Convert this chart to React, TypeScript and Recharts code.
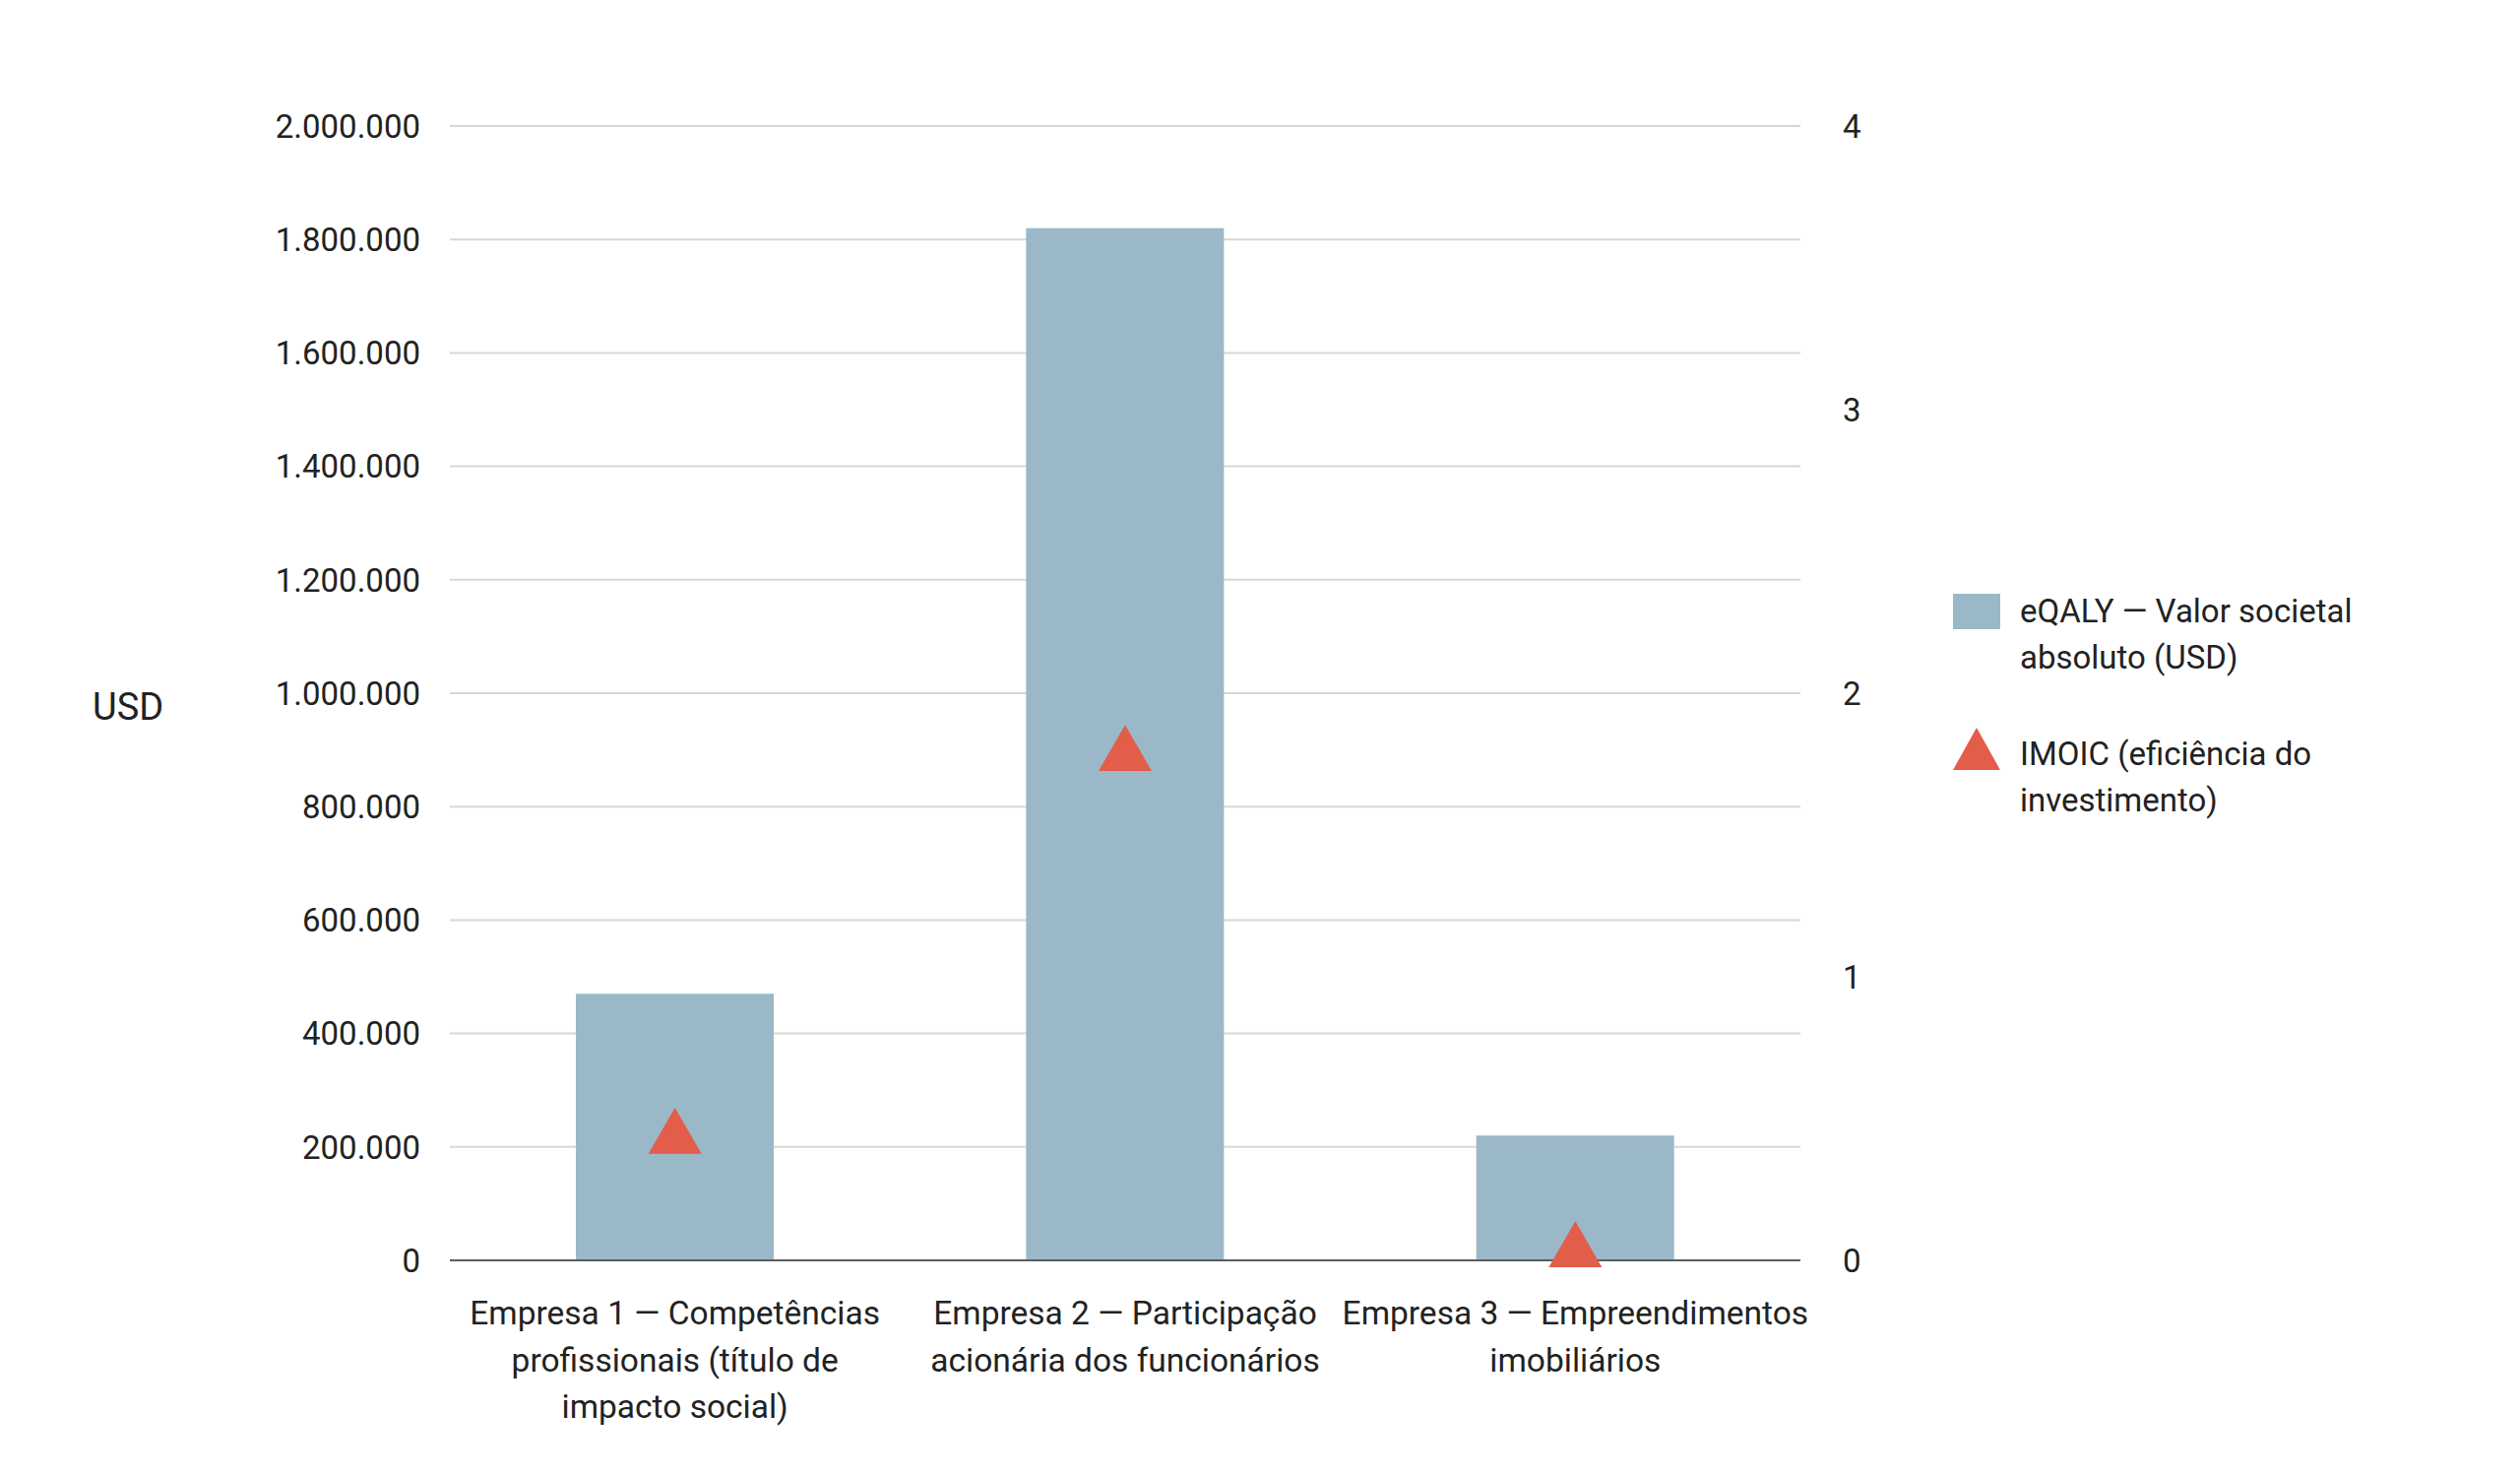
import React from "react";
import {
  Bar,
  CartesianGrid,
  ComposedChart,
  Legend,
  Scatter,
  XAxis,
  YAxis,
  ZAxis,
} from "recharts";

const categories = [
  "Empresa 1 — Competências profissionais (título de impacto social)",
  "Empresa 2 — Participação acionária dos funcionários",
  "Empresa 3 — Empreendimentos imobiliários",
];

// How each category label breaks in the reference.
const categoryLines = [
  ["Empresa 1 — Competências", "profissionais (título de", "impacto social)"],
  ["Empresa 2 — Participação", "acionária dos funcionários"],
  ["Empresa 3 — Empreendimentos", "imobiliários"],
];

const eqalyValues = [470000, 1820000, 220000];
const imoicValues = [0.43, 1.78, 0.03];

const usdTicks = [0, 200000, 400000, 600000, 800000, 1000000, 1200000, 1400000, 1600000, 1800000, 2000000];
const imoicTicks = [0, 1, 2, 3, 4];

const eqalyName = "eQALY — Valor societal absoluto (USD)";
const imoicName = "IMOIC (eficiência do investimento)";

const colors = {
  bar: "#9bb8c9",
  marker: "#e35d4b",
  grid: "#d9d7d0",
  axis: "#5b5c5e",
  text: "#222222",
};

const FONT = "Roboto, 'Noto Sans', sans-serif";

const rows = categories.map((name, i) => ({
  name,
  eqaly: eqalyValues[i],
  imoic: imoicValues[i],
}));

// Dotted thousands, pt-BR style: 1.800.000
const formatUsd = (v: number) => String(v).replace(/\B(?=(\d{3})+(?!\d))/g, ".");

function CategoryTick(props: { x?: number; y?: number; index?: number }) {
  const { x = 0, y = 0, index = 0 } = props;
  const lines = categoryLines[index] ?? [];
  return (
    <text x={x} y={y} textAnchor="middle" fill={colors.text} fontSize={33.5} fontFamily={FONT}>
      {lines.map((line, i) => (
        <tspan key={i} x={x} y={y + 65 + i * 47.5}>
          {line}
        </tspan>
      ))}
    </text>
  );
}

function LegendContent() {
  const item: React.CSSProperties = {
    display: "flex",
    alignItems: "flex-start",
    fontSize: 33,
    lineHeight: "47px",
    color: colors.text,
    fontFamily: FONT,
  };
  return (
    <div>
      <div style={item}>
        <svg width={48} height={36} style={{ marginTop: 6, flex: "none" }}>
          <rect width={48} height={36} fill={colors.bar} />
        </svg>
        <div style={{ marginLeft: 20, width: 400 }}>{eqalyName}</div>
      </div>
      <div style={{ ...item, marginTop: 51 }}>
        <svg width={48} height={43} style={{ marginTop: -3, flex: "none" }}>
          <polygon points="24,0 48,43 0,43" fill={colors.marker} />
        </svg>
        <div style={{ marginLeft: 20, width: 400 }}>{imoicName}</div>
      </div>
    </div>
  );
}

export default function App() {
  return (
    <div style={{ position: "absolute", left: 0, top: 0, fontFamily: FONT }}>
      <ComposedChart
        width={2560}
        height={1499}
        data={rows}
        margin={{ top: 128, right: 0, bottom: 0, left: 0 }}
      >
        <CartesianGrid yAxisId="left" vertical={false} stroke={colors.grid} strokeWidth={2} />
        <XAxis
          dataKey="name"
          height={219}
          tickLine={false}
          tickSize={0}
          tickMargin={0}
          axisLine={{ stroke: colors.axis, strokeWidth: 2 }}
          tick={<CategoryTick />}
          interval={0}
        />
        <YAxis
          yAxisId="left"
          width={457}
          domain={[0, 2000000]}
          ticks={usdTicks}
          tickFormatter={(v) => formatUsd(Number(v))}
          axisLine={false}
          tickLine={false}
          tickSize={0}
          tickMargin={30}
          tick={{ fill: colors.text, fontSize: 33, fontFamily: FONT }}
          label={{
            value: "USD",
            position: "insideLeft",
            offset: 94,
            dy: 14,
            fill: colors.text,
            fontSize: 38,
            fontFamily: FONT,
          }}
        />
        <YAxis
          yAxisId="right"
          orientation="right"
          width={155}
          domain={[0, 4]}
          ticks={imoicTicks}
          axisLine={false}
          tickLine={false}
          tickSize={0}
          tickMargin={43}
          tick={{ fill: colors.text, fontSize: 33, fontFamily: FONT }}
        />
        <ZAxis range={[1263, 1263]} />
        <Legend
          layout="vertical"
          align="right"
          verticalAlign="top"
          wrapperStyle={{ top: 597, right: 0, width: 576 }}
          content={<LegendContent />}
        />
        <Bar
          yAxisId="left"
          dataKey="eqaly"
          name={eqalyName}
          fill={colors.bar}
          barSize={201}
          isAnimationActive={false}
        />
        <Scatter
          yAxisId="right"
          dataKey="imoic"
          name={imoicName}
          fill={colors.marker}
          shape="triangle"
          isAnimationActive={false}
        />
      </ComposedChart>
    </div>
  );
}
